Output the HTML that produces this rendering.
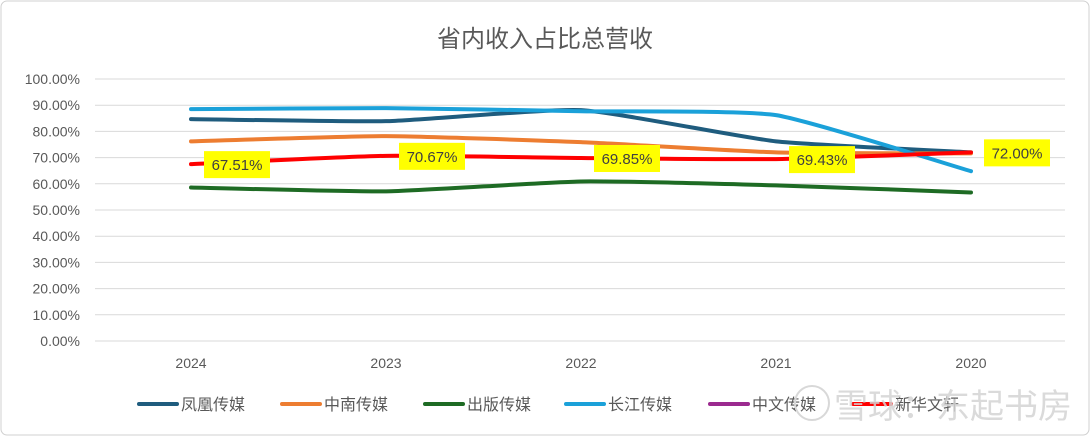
<!DOCTYPE html>
<html><head><meta charset="utf-8"><style>
body{margin:0;background:#fff;}
svg{display:block;font-family:"Liberation Sans","Noto Sans CJK SC",sans-serif;}
</style></head><body>
<svg id="c" width="1090" height="436">
<rect x="1" y="1" width="1088" height="434" rx="6" fill="#fff" stroke="#d0d0d0"/>
<text x="545" y="47" text-anchor="middle" font-size="24" fill="#595959">省内收入占比总营收</text>
<g id="grid"></g><g id="lines"></g><g id="labels"></g><g id="legend"></g>
<circle cx="812" cy="403" r="17" fill="none" stroke="#d8d8d8" stroke-width="2"/>
<text x="1072" y="418" text-anchor="end" font-size="34" fill="#d4d4d4" opacity="0.85">雪球：东起书房</text>
</svg>
<script>
const categories=["2024","2023","2022","2021","2020"];
const yTicks=[0,10,20,30,40,50,60,70,80,90,100];
const seriesNames=["凤凰传媒","中南传媒","出版传媒","长江传媒","中文传媒","新华文轩"];
const seriesColors=["#1f5c7e","#ed7d31","#1e6b24","#1ba1d9","#9b2a8f","#ff0000"];
const fenghuang=[84.7,83.9,88.1,76.2,72.0];
const zhongnan=[76.2,78.2,75.9,72.0,71.6];
const chuban=[58.6,57.1,60.9,59.4,56.7];
const changjiang=[88.5,88.9,87.7,86.2,64.8];
const zhongwen=[];
const xinhua=[67.51,70.67,69.85,69.43,72.00];
const allSeries=[fenghuang,zhongnan,chuban,changjiang,zhongwen,xinhua];
const ns="http://www.w3.org/2000/svg";
const X=i=>191+i*195, Y=v=>341-v*2.62;
function mk(t,a,p){const e=document.createElementNS(ns,t);for(const k in a)e.setAttribute(k,a[k]);p.appendChild(e);return e;}
const grid=document.getElementById('grid');
yTicks.forEach(v=>{
 const l=mk('line',{x1:95,x2:1065,y1:Y(v),y2:Y(v),stroke:'#d9d9d9','stroke-width':1},grid);
 
 
 const t=mk('text',{x:80,y:Y(v)+5,'text-anchor':'end','font-size':14,fill:'#595959'},grid);t.textContent=v.toFixed(2)+'%';
 
 
});
categories.forEach((c,i)=>{
 const t=mk('text',{x:X(i),y:368,'text-anchor':'middle','font-size':14,fill:'#595959'},grid);t.textContent=c;
 
 
});
function path(vals){
 const p=vals.map((v,i)=>[X(i),Y(v)]);let d='M'+p[0];const f=12;
 for(let i=0;i<p.length-1;i++){const p0=p[i-1]||p[i],p1=p[i],p2=p[i+1],p3=p[i+2]||p2;
  d+=' C'+(p1[0]+(p2[0]-p0[0])/f)+','+(p1[1]+(p2[1]-p0[1])/f)+' '+(p2[0]-(p3[0]-p1[0])/f)+','+(p2[1]-(p3[1]-p1[1])/f)+' '+p2;}
 return d;}
const lines=document.getElementById('lines');
allSeries.forEach((s,k)=>{
 if(!s.length)return;
 const e=mk('path',{d:path(s),fill:'none',stroke:seriesColors[k],'stroke-width':4,'stroke-linecap':'round'},lines);
 
 
});
const labels=document.getElementById('labels');
xinhua.forEach((v,i)=>{
 const g=mk('g',{},labels);
 
 
 mk('rect',{x:X(i)+13,y:Y(v)-13,width:66,height:27,fill:'#ffff00'},g);
 const t=mk('text',{x:X(i)+46,y:Y(v)+6,'text-anchor':'middle','font-size':15,fill:'#404040'},g);t.textContent=v.toFixed(2)+'%';
});
const legend=document.getElementById('legend');
const lx=[137,280,423,564,708,851];
seriesNames.forEach((n,k)=>{
 const g=mk('g',{},legend);
 
 
 mk('line',{x1:lx[k]+2,x2:lx[k]+40,y1:404,y2:404,stroke:seriesColors[k],'stroke-width':4,'stroke-linecap':'round'},g);
 const t=mk('text',{x:lx[k]+44,y:410,'font-size':16,fill:'#595959'},g);t.textContent=n;
});
</script>
</body></html>
